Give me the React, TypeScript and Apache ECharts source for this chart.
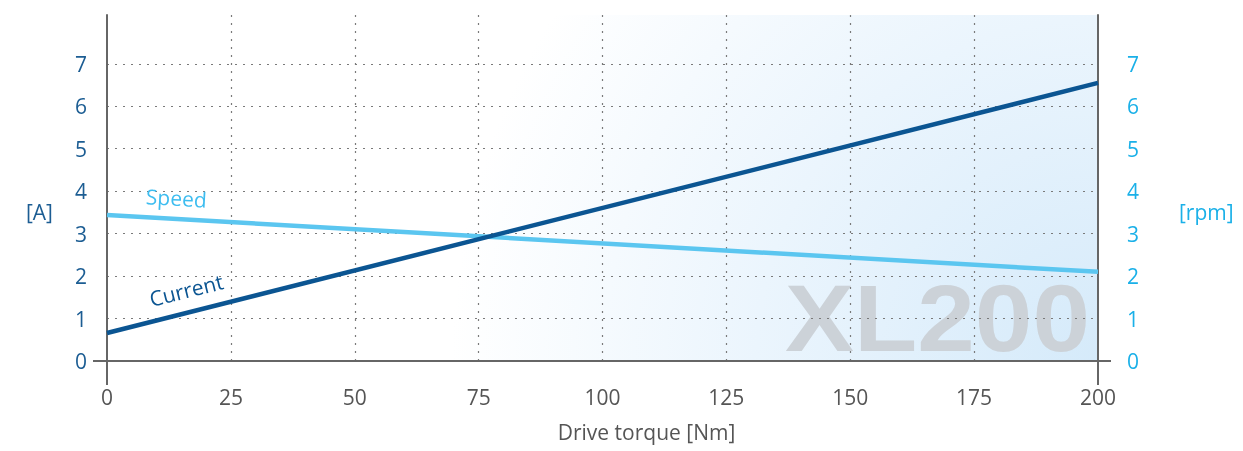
import React, { useEffect, useRef } from 'react';
import * as echarts from 'echarts';

// ---- data ----
const torqueNm = [0, 200];
const currentA = [0.66, 6.55];
const speedRpm = [3.44, 2.1];
const xTickStep = 25;
const yTickStep = 1;
const yLabelMax = 7;
const seriesNames = ['Current', 'Speed'];
const unitNames = ['[A]', '[rpm]'];
const watermark = 'XL200';

const FONT = '"Open Sans", sans-serif';
const FS = 21;
const C_CURRENT = '#0b5592';
const C_SPEED = '#5bc6f0';
const C_LEFT = '#1c5d93';
const C_RIGHT = '#1ab0e8';
const C_AXIS = '#666666';
const C_GRID = '#7a7a7a';

export default function App() {
  const ref = useRef<HTMLDivElement>(null);
  useEffect(() => {
    if (!ref.current) return;
    const chart = echarts.init(ref.current, undefined, { renderer: 'svg' });
    const currentData = torqueNm.map((x, i) => [x, currentA[i]]);
    const speedData = torqueNm.map((x, i) => [x, speedRpm[i]]);
    const yFmt = (v: number) => (v <= yLabelMax && Number.isInteger(v) ? String(v) : '');
    const gridColors = [] as string[];
    for (let i = 0; i <= yLabelMax; i++) gridColors.push(C_GRID);
    gridColors.push('rgba(0,0,0,0)', 'rgba(0,0,0,0)');

    const baseOption = {
      animation: false,
      textStyle: { fontFamily: FONT },
      grid: {
        left: 107, right: 145, top: 15, bottom: 90,
        show: true, borderWidth: 0, z: -2,
        outerBoundsMode: 'none',
        backgroundColor: new echarts.graphic.RadialGradient(1098, 361, 760, [
          { offset: 0, color: '#d5eafa' },
          { offset: 0.45, color: '#ebf5fd' },
          { offset: 0.85, color: '#ffffff' },
          { offset: 1, color: '#ffffff' },
        ], true),
      },
      xAxis: {
        type: 'value', min: torqueNm[0], max: torqueNm[torqueNm.length - 1], interval: xTickStep,
        axisLine: { show: true, lineStyle: { color: C_AXIS, width: 2 } },
        axisTick: { show: false },
        axisLabel: { color: '#555', fontSize: FS, fontFamily: FONT, margin: 25 },
        splitLine: { show: true, showMinLine: false, showMaxLine: false, lineStyle: { color: C_GRID, type: [2, 6], width: 1.2 } },
        name: 'Drive torque [Nm]', nameLocation: 'middle', nameGap: 60,
        nameTextStyle: { color: '#555', fontSize: FS, fontFamily: FONT, padding: [0, 0, 0, 88] },
      },
      yAxis: [
        {
          type: 'value', position: 'left', min: 0, max: 8.15, interval: yTickStep,
          axisLine: { show: true, lineStyle: { color: C_AXIS, width: 2 } },
          axisTick: { show: false },
          axisLabel: { color: C_LEFT, fontSize: FS, fontFamily: FONT, margin: 20, formatter: yFmt },
          splitLine: { show: true, showMaxLine: false, lineStyle: { color: gridColors, type: [2, 6], width: 1.2 } },
        },
        {
          type: 'value', position: 'right', min: 0, max: 8.15, interval: yTickStep,
          axisLine: { show: true, lineStyle: { color: C_AXIS, width: 2 } },
          axisTick: { show: false },
          axisLabel: { color: C_RIGHT, fontSize: FS, fontFamily: FONT, margin: 29, formatter: yFmt },
          splitLine: { show: false },
        },
      ],
      series: [
        {
          name: seriesNames[0], type: 'line', yAxisIndex: 0, data: currentData, symbol: 'none', z: 3,
          lineStyle: { color: C_CURRENT, width: 4.5 }, itemStyle: { color: C_CURRENT },
          markPoint: {
            silent: true, symbol: 'circle', symbolSize: 0,
            label: { show: true, position: 'inside', formatter: seriesNames[0], rotate: 14, color: C_CURRENT, fontSize: FS, fontFamily: FONT },
            data: [{ coord: [16, 1.67] }],
          },
        },
        {
          name: seriesNames[1], type: 'line', yAxisIndex: 1, data: speedData, symbol: 'none', z: 2,
          lineStyle: { color: C_SPEED, width: 4.5 }, itemStyle: { color: C_SPEED },
          markPoint: {
            silent: true, symbol: 'circle', symbolSize: 0,
            label: { show: true, position: 'inside', formatter: seriesNames[1], rotate: -3.3, color: '#3dbdf0', fontSize: FS, fontFamily: FONT },
            data: [{ coord: [14, 3.84] }],
          },
        },
      ],
    };
    chart.setOption(baseOption);

    // axis-line overhangs, unit names and watermark placed from the axes
    const p0 = chart.convertToPixel({ gridIndex: 0 }, [torqueNm[0], 0]) as number[];
    const p1 = chart.convertToPixel({ gridIndex: 0 }, [torqueNm[torqueNm.length - 1], 0]) as number[];
    const pMid = chart.convertToPixel({ gridIndex: 0 }, [torqueNm[0], yLabelMax / 2]) as number[];
    const ls = { stroke: C_AXIS, lineWidth: 2 };
    chart.setOption({
      graphic: [
        {
          type: 'text', z: -1, x: p1[0] - 8, y: p1[1] - 43, scaleX: 1.09, silent: true,
          style: { text: watermark, fill: '#ccd2d8', font: 'bold 95px "Liberation Sans", Arial, sans-serif', align: 'right', verticalAlign: 'middle' },
        },
        {
          type: 'text', x: p0[0] - 54, y: pMid[1], silent: true,
          style: { text: unitNames[0], fill: C_LEFT, font: `${FS}px ${FONT}`, align: 'right', verticalAlign: 'middle' },
        },
        {
          type: 'text', x: p1[0] + 81, y: pMid[1], silent: true,
          style: { text: unitNames[1], fill: C_RIGHT, font: `${FS}px ${FONT}`, align: 'left', verticalAlign: 'middle' },
        },
        { type: 'line', silent: true, shape: { x1: p0[0], y1: p0[1], x2: p0[0], y2: p0[1] + 24 }, style: ls },
        { type: 'line', silent: true, shape: { x1: p1[0], y1: p1[1], x2: p1[0], y2: p1[1] + 24 }, style: ls },
        { type: 'line', silent: true, shape: { x1: p0[0] - 14, y1: p0[1], x2: p0[0], y2: p0[1] }, style: ls },
        { type: 'line', silent: true, shape: { x1: p1[0], y1: p1[1], x2: p1[0] + 13, y2: p1[1] }, style: ls },
      ],
    });
    return () => chart.dispose();
  }, []);
  return <div ref={ref} style={{ position: 'fixed', left: 0, top: 0, width: 1243, height: 451 }} />;
}
